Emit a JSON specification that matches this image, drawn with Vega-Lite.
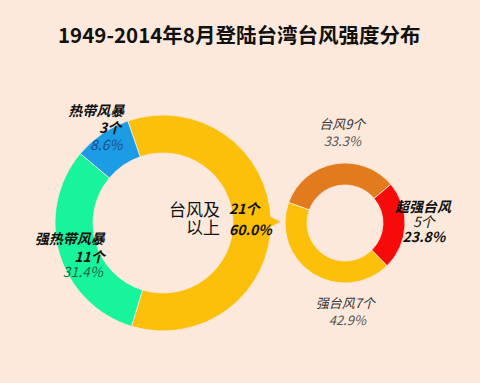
{
  "$schema": "https://vega.github.io/schema/vega-lite/v6.json",
  "background": "#FCE9DB",
  "padding": {"left": 34, "top": 26, "right": 70, "bottom": 40},
  "config": {
    "view": {"stroke": null},
    "font": "Noto Sans CJK SC",
    "text": {"font": "Noto Sans CJK SC"}
  },
  "title": {
    "text": "1949-2014年8月登陆台湾台风强度分布",
    "font": "Noto Sans CJK SC",
    "fontSize": 20.5,
    "fontWeight": "bold",
    "color": "#111111",
    "anchor": "start",
    "frame": "group",
    "offset": 46
  },
  "datasets": {
    "left": [
      {"cat": "台风及以上", "share": 60.0, "nlabel": "21个", "pct": "60.0%", "rank": 1},
      {"cat": "强热带风暴", "share": 31.4, "nlabel": "11个", "pct": "31.4%", "rank": 2},
      {"cat": "热带风暴", "share": 8.6, "nlabel": "3个", "pct": "8.6%", "rank": 3}
    ],
    "right": [
      {"cat": "台风", "share": 33.3, "nlabel": "9个", "full": "台风9个", "pct": "33.3%", "rank": 1},
      {"cat": "超强台风", "share": 23.8, "nlabel": "5个", "full": "超强台风5个", "pct": "23.8%", "rank": 2},
      {"cat": "强台风", "share": 42.9, "nlabel": "7个", "full": "强台风7个", "pct": "42.9%", "rank": 3}
    ]
  },
  "spacing": 0,
  "bounds": "flush",
  "resolve": {"scale": {"color": "independent", "theta": "independent"}},
  "hconcat": [
    {
      "width": 210,
      "height": 260,
      "data": {"name": "left"},
      "encoding": {
        "theta": {"field": "share", "type": "quantitative", "stack": true, "scale": {"range": [-0.332, 5.951]}},
        "order": {"field": "rank", "type": "quantitative"}
      },
      "layer": [
        {
          "mark": {"type": "arc", "outerRadius": 108, "innerRadius": 70, "stroke": "#FCE9DB", "strokeWidth": 0.8},
          "encoding": {
            "color": {"field": "cat", "type": "nominal", "legend": null,
              "scale": {"domain": ["台风及以上", "强热带风暴", "热带风暴"], "range": ["#FCBF0A", "#17F49B", "#1B9CE5"]}}
          }
        },
        {
          "mark": {"type": "text", "radius": 110, "fontSize": 20, "font": "DejaVu Sans", "align": "center", "baseline": "middle", "color": "#FCBF0A"},
          "encoding": {"text": {"condition": {"test": "datum.cat === '台风及以上'", "value": "▶"}, "value": ""}}
        },
        {
          "mark": {"type": "text", "radius": 100, "align": "right", "baseline": "middle", "dx": 18, "dy": -29, "fontSize": 14, "fontWeight": "bold", "fontStyle": "italic", "color": "#111111"},
          "encoding": {"text": {"condition": {"test": "datum.cat === '热带风暴'", "field": "cat"}, "value": ""}}
        },
        {
          "mark": {"type": "text", "radius": 100, "align": "right", "baseline": "middle", "dx": 15, "dy": -12, "fontSize": 14, "fontWeight": "bold", "fontStyle": "italic", "color": "#111111"},
          "encoding": {"text": {"condition": {"test": "datum.cat === '热带风暴'", "field": "nlabel"}, "value": ""}}
        },
        {
          "mark": {"type": "text", "radius": 100, "align": "right", "baseline": "middle", "dx": 16, "dy": 5, "fontSize": 14, "fontStyle": "italic", "color": "#1B4F8A"},
          "encoding": {"text": {"condition": {"test": "datum.cat === '热带风暴'", "field": "pct"}, "value": ""}}
        },
        {
          "mark": {"type": "text", "radius": 92, "align": "right", "baseline": "middle", "dx": 30, "dy": -9, "fontSize": 14, "fontWeight": "bold", "fontStyle": "italic", "color": "#111111"},
          "encoding": {"text": {"condition": {"test": "datum.cat === '强热带风暴'", "field": "cat"}, "value": ""}}
        },
        {
          "mark": {"type": "text", "radius": 92, "align": "right", "baseline": "middle", "dx": 30, "dy": 9, "fontSize": 14, "fontWeight": "bold", "fontStyle": "italic", "color": "#111111"},
          "encoding": {"text": {"condition": {"test": "datum.cat === '强热带风暴'", "field": "nlabel"}, "value": ""}}
        },
        {
          "mark": {"type": "text", "radius": 92, "align": "right", "baseline": "middle", "dx": 28, "dy": 24, "fontSize": 14, "fontStyle": "italic", "color": "#1E6B44"},
          "encoding": {"text": {"condition": {"test": "datum.cat === '强热带风暴'", "field": "pct"}, "value": ""}}
        },
        {
          "mark": {"type": "text", "radius": 72, "align": "right", "baseline": "middle", "dx": -15, "dy": -11, "fontSize": 17, "lineHeight": 18, "lineBreak": "\n", "color": "#111111"},
          "encoding": {"text": {"condition": {"test": "datum.cat === '台风及以上'", "value": "台风及\n以上"}, "value": ""}}
        },
        {
          "mark": {"type": "text", "radius": 72, "align": "left", "baseline": "middle", "dx": -6, "dy": -12, "fontSize": 14, "fontWeight": "bold", "fontStyle": "italic", "color": "#111111"},
          "encoding": {"text": {"condition": {"test": "datum.cat === '台风及以上'", "field": "nlabel"}, "value": ""}}
        },
        {
          "mark": {"type": "text", "radius": 72, "align": "left", "baseline": "middle", "dx": -6, "dy": 9, "fontSize": 14, "fontWeight": "bold", "fontStyle": "italic", "color": "#111111"},
          "encoding": {"text": {"condition": {"test": "datum.cat === '台风及以上'", "field": "pct"}, "value": ""}}
        }
      ]
    },
    {
      "width": 154,
      "height": 260,
      "data": {"name": "right"},
      "encoding": {
        "theta": {"field": "share", "type": "quantitative", "stack": true, "scale": {"range": [-1.222, 5.061]}},
        "order": {"field": "rank", "type": "quantitative"}
      },
      "layer": [
        {
          "mark": {"type": "arc", "outerRadius": 60, "innerRadius": 38, "stroke": "#FCE9DB", "strokeWidth": 0.8},
          "encoding": {
            "color": {"field": "cat", "type": "nominal", "legend": null,
              "scale": {"domain": ["台风", "超强台风", "强台风"], "range": ["#E27A1E", "#F70A0A", "#FCBF0A"]}}
          }
        },
        {
          "mark": {"type": "text", "radius": 90, "align": "center", "baseline": "middle", "dx": 13, "dy": -9, "fontSize": 13, "fontStyle": "italic", "color": "#333333"},
          "encoding": {"text": {"condition": {"test": "datum.cat === '台风'", "field": "full"}, "value": ""}}
        },
        {
          "mark": {"type": "text", "radius": 90, "align": "center", "baseline": "middle", "dx": 13, "dy": 8, "fontSize": 13, "fontStyle": "italic", "color": "#555555"},
          "encoding": {"text": {"condition": {"test": "datum.cat === '台风'", "field": "pct"}, "value": ""}}
        },
        {
          "mark": {"type": "text", "radius": 78, "align": "center", "baseline": "middle", "dx": 0, "dy": -19, "fontSize": 14, "fontWeight": "bold", "fontStyle": "italic", "color": "#111111"},
          "encoding": {"text": {"condition": {"test": "datum.cat === '超强台风'", "field": "cat"}, "value": ""}}
        },
        {
          "mark": {"type": "text", "radius": 78, "align": "center", "baseline": "middle", "dx": 1, "dy": -4, "fontSize": 14, "fontStyle": "italic", "color": "#111111"},
          "encoding": {"text": {"condition": {"test": "datum.cat === '超强台风'", "field": "nlabel"}, "value": ""}}
        },
        {
          "mark": {"type": "text", "radius": 78, "align": "center", "baseline": "middle", "dx": 1, "dy": 11, "fontSize": 14, "fontWeight": "bold", "fontStyle": "italic", "color": "#111111"},
          "encoding": {"text": {"condition": {"test": "datum.cat === '超强台风'", "field": "pct"}, "value": ""}}
        },
        {
          "mark": {"type": "text", "radius": 90, "align": "center", "baseline": "middle", "dx": 49, "dy": 5, "fontSize": 13, "fontStyle": "italic", "color": "#333333"},
          "encoding": {"text": {"condition": {"test": "datum.cat === '强台风'", "field": "full"}, "value": ""}}
        },
        {
          "mark": {"type": "text", "radius": 90, "align": "center", "baseline": "middle", "dx": 51, "dy": 22, "fontSize": 13, "fontStyle": "italic", "color": "#555555"},
          "encoding": {"text": {"condition": {"test": "datum.cat === '强台风'", "field": "pct"}, "value": ""}}
        }
      ]
    }
  ]
}
